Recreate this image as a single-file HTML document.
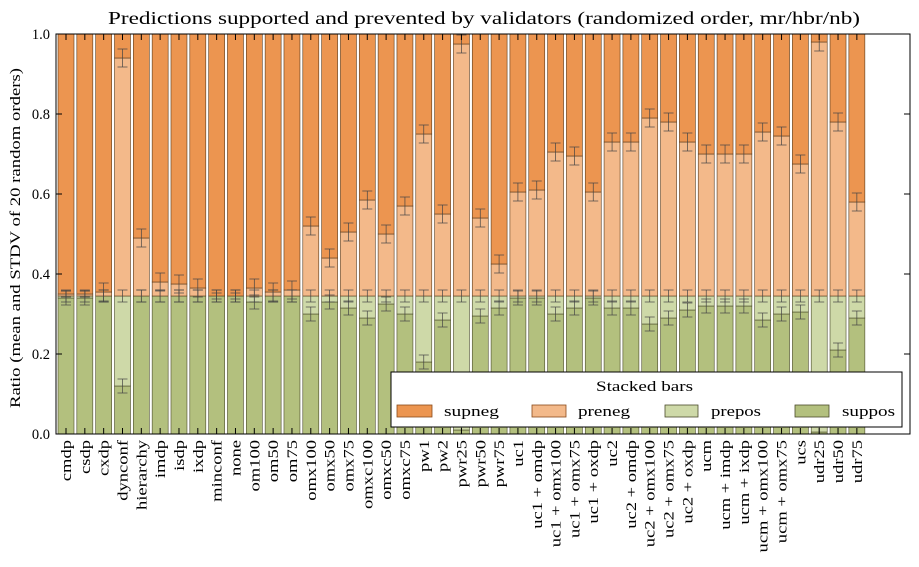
<!DOCTYPE html>
<html><head><meta charset="utf-8"><style>
html,body{margin:0;padding:0;background:#fff;}
svg text{font-family:"Liberation Serif","DejaVu Serif",serif;fill:#000;}
</style></head><body>
<svg id="s" width="919" height="562" xmlns="http://www.w3.org/2000/svg">
<rect width="919" height="562" fill="#fff"/>
<text x="108" y="24" font-size="18" textLength="752" lengthAdjust="spacingAndGlyphs">Predictions supported and prevented by validators (randomized order, mr/hbr/nb)</text>
<text transform="translate(20,408) rotate(-90)" font-size="15" textLength="340" lengthAdjust="spacingAndGlyphs">Ratio (mean and STDV of 20 random orders)</text>
<g id="bars"></g>
<rect x="56" y="34" width="854" height="400" fill="none" stroke="#000" stroke-width="1"/>
<g id="ticks"></g>
<g id="legend">
<rect x="391" y="372" width="511" height="55" fill="#fff" stroke="#000"/>
<text x="596" y="391" font-size="14.5" textLength="97" lengthAdjust="spacingAndGlyphs">Stacked bars</text>
<rect x="397" y="405" width="35" height="12" fill="#ec9550" stroke="#8a4a1a" stroke-width="0.8"/>
<text x="444" y="416" font-size="14.5" textLength="55" lengthAdjust="spacingAndGlyphs">supneg</text>
<rect x="532" y="405" width="34" height="12" fill="#f3b98a" stroke="#8a4a1a" stroke-width="0.8"/>
<text x="578" y="416" font-size="14.5" textLength="52" lengthAdjust="spacingAndGlyphs">preneg</text>
<rect x="665" y="405" width="33" height="12" fill="#ced9a8" stroke="#4a4a2a" stroke-width="0.8"/>
<text x="711" y="416" font-size="14.5" textLength="50" lengthAdjust="spacingAndGlyphs">prepos</text>
<rect x="795" y="405" width="34" height="12" fill="#b3c07e" stroke="#4a4a2a" stroke-width="0.8"/>
<text x="842" y="416" font-size="14.5" textLength="53" lengthAdjust="spacingAndGlyphs">suppos</text>
</g>
</svg>
<script>
var d=[["cmdp",.34,.35],["csdp",.34,.35],["cxdp",.345,.355],["dynconf",.12,.94],["hierarchy",.345,.49],["imdp",.345,.38],["isdp",.345,.375],["ixdp",.345,.365],["minconf",.345,.345],["none",.345,.345],["om100",.33,.365],["om50",.345,.355],["om75",.345,.36],["omx100",.30,.52],["omx50",.33,.44],["omx75",.315,.505],["omxc100",.29,.585],["omxc50",.325,.50],["omxc75",.30,.57],["pw1",.18,.75],["pw2",.285,.55],["pwr25",.01,.975],["pwr50",.295,.54],["pwr75",.315,.425],["uc1",.34,.605],["uc1 + omdp",.34,.61],["uc1 + omx100",.30,.705],["uc1 + omx75",.315,.695],["uc1 + oxdp",.34,.605],["uc2",.315,.73],["uc2 + omdp",.315,.73],["uc2 + omx100",.275,.79],["uc2 + omx75",.29,.78],["uc2 + oxdp",.31,.73],["ucm",.32,.70],["ucm + imdp",.32,.70],["ucm + ixdp",.32,.70],["ucm + omx100",.285,.755],["ucm + omx75",.30,.745],["ucs",.305,.675],["udr25",.005,.98],["udr50",.21,.78],["udr75",.29,.58]];
var NS="http://www.w3.org/2000/svg",g=document.getElementById("bars"),t=document.getElementById("ticks");
function el(p,n,a,txt){var e=document.createElementNS(NS,n);for(var k in a)e.setAttribute(k,a[k]);if(txt)e.textContent=txt;p.appendChild(e);return e;}
function Y(v){return 434-v*400;}
var P=.345;
d.forEach(function(r,i){var c=66+i*18.83,x=c-8,w=16;
 el(g,"rect",{x:x,y:Y(r[1]),width:w,height:r[1]*400,fill:"#b3c07e",stroke:"#4a4a2a","stroke-width":.6});
 el(g,"rect",{x:x,y:Y(P),width:w,height:(P-r[1])*400,fill:"#ced9a8",stroke:"#4a4a2a","stroke-width":.6});
 el(g,"rect",{x:x,y:Y(r[2]),width:w,height:(r[2]-P)*400,fill:"#f3b98a",stroke:"#5a3a1a","stroke-width":.6});
 el(g,"rect",{x:x,y:34,width:w,height:(1-r[2])*400,fill:"#ec9550",stroke:"#5a3a1a","stroke-width":.6});
 [[r[1],r[1]==.345?.03:.035],[P,.03],[r[2],r[2]-P<.01?.015:.045]].forEach(function(e){
  var e1=Y(Math.min(1,e[0]+e[1]/2)),e2=Y(Math.max(0,e[0]-e[1]/2));
  el(g,"line",{x1:c,x2:c,y1:e1,y2:e2,stroke:"#444","stroke-width":.7});
  el(g,"line",{x1:c-5,x2:c+5,y1:e1,y2:e1,stroke:"#444","stroke-width":.7});
  el(g,"line",{x1:c-5,x2:c+5,y1:e2,y2:e2,stroke:"#444","stroke-width":.7});});
 el(t,"line",{x1:c,x2:c,y1:434,y2:428,stroke:"#000"});
 el(t,"line",{x1:c,x2:c,y1:34,y2:40,stroke:"#000"});
 el(t,"text",{transform:"translate("+(c+5)+",440) rotate(-90) scale(1.28,1)","font-size":14.5,"text-anchor":"end"},r[0]);
});
for(var k=0;k<=5;k++){var v=k*.2,y=Y(v);
 el(t,"line",{x1:56,x2:62,y1:y,y2:y,stroke:"#000"});el(t,"line",{x1:904,x2:910,y1:y,y2:y,stroke:"#000"});
 el(t,"text",{x:50,y:y+5,"font-size":14.5,"text-anchor":"end"},v.toFixed(1));}
</script>
</body></html>
